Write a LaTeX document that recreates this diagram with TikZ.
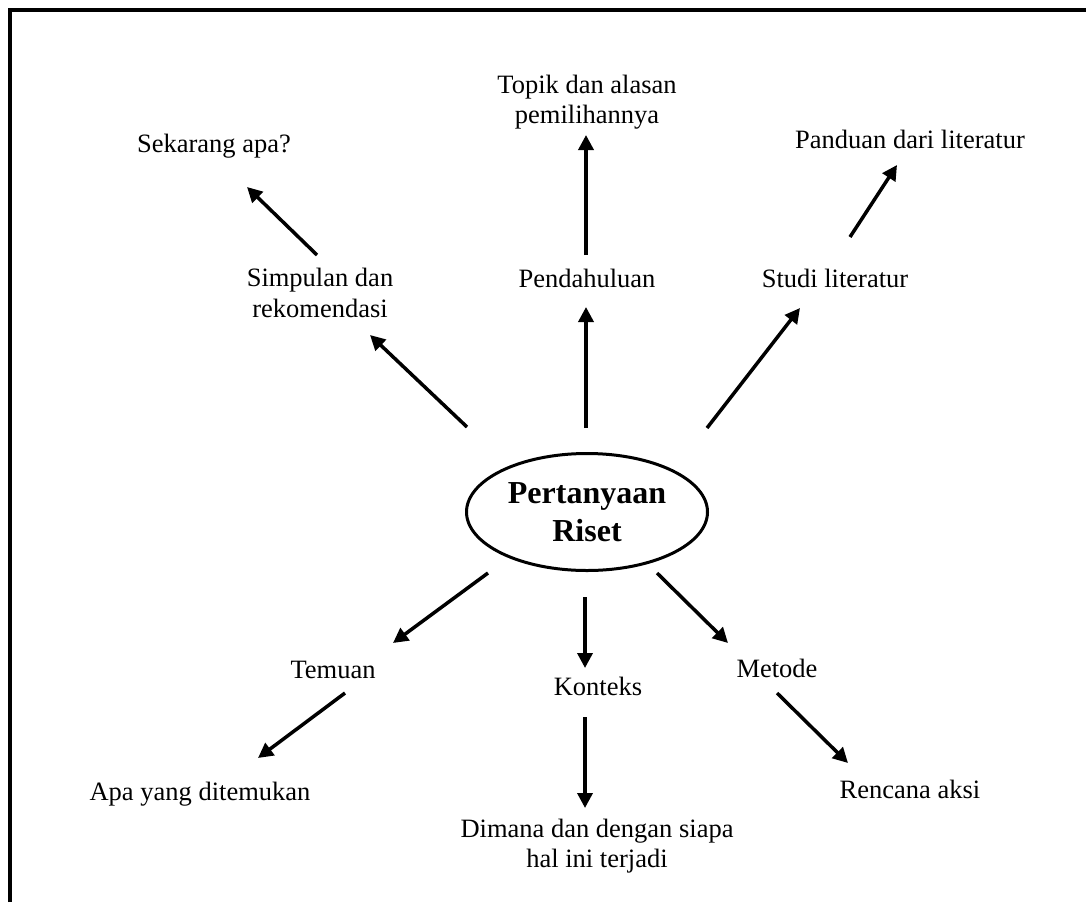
\documentclass[tikz,border=0pt]{standalone}
\usepackage{fontspec}
\setmainfont{Liberation Serif}
\usetikzlibrary{shapes.geometric, arrows.meta, calc}
\tikzstyle{point} = [inner sep=0pt, outer sep=0pt, align=center, font=\fontsize{26.5}{30.5}\selectfont]
\tikzstyle{question} = [ellipse, draw=black, line width=3pt, minimum width=241pt, minimum height=117pt, inner sep=0pt, align=center, font=\fontsize{32}{38}\selectfont\bfseries]
\tikzstyle{arrow} = [line width=3.5pt, -{Triangle[length=15pt,width=15pt]}]

\begin{document}
\begin{tikzpicture}[x=1pt, y=-1pt]
	\useasboundingbox (0,0) rectangle (1086,902);
	\draw [line width=4pt] (10,902) -- (10,10) -- (1086,10);

	\node (ell) [question] at (587,512) {Pertanyaan\\Riset};

	\node (sim) [point] at (320,293) {Simpulan dan\\rekomendasi};
	\node (pen) [point, anchor=base] at (587,287) {Pendahuluan};
	\node (stu) [point, anchor=base] at (835,287) {Studi literatur};
	\node (sek) [point, anchor=base] at (214,152) {Sekarang apa?};
	\node (top) [point] at (587,102) {Topik dan alasan\\pemilihannya};
	\node (pan) [point, anchor=base] at (910,148) {Panduan dari literatur};

	\node (tem) [point, anchor=base] at (333,678) {Temuan};
	\node (kon) [point, anchor=base] at (598,695) {Konteks};
	\node (met) [point, anchor=base] at (777,677) {Metode};
	\node (apa) [point, anchor=base] at (200,800) {Apa yang ditemukan};
	\node (dim) [point] at (597,846) {Dimana dan dengan siapa\\hal ini terjadi};
	\node (ren) [point, anchor=base] at (910,798) {Rencana aksi};

	% upper branches
	\draw [arrow] ($(ell)+(-120,-85)$) -- ($(sim)+(50,42)$);
	\draw [arrow] ($(sim)+(-3,-38)$) -- ($(sek.base)+(33,35)$);
	\draw [arrow] ($(ell)+(-1,-84)$) -- ($(pen.base)+(-1,20)$);
	\draw [arrow] ($(pen.base)+(-1,-32)$) -- ($(top)+(-1,33)$);
	\draw [arrow] ($(ell)+(120,-84)$) -- ($(stu.base)+(-35,21)$);
	\draw [arrow] ($(stu.base)+(15,-50)$) -- ($(pan.base)+(-13,17)$);

	% lower branches
	\draw [arrow] ($(ell)+(-99,61)$) -- ($(tem.base)+(60,-35)$);
	\draw [arrow] ($(tem.base)+(12,15)$) -- ($(apa.base)+(58,-42)$);
	\draw [arrow] ($(ell)+(-2,85)$) -- ($(kon.base)+(-13,-27)$);
	\draw [arrow] ($(kon.base)+(-13,22)$) -- ($(dim)+(-12,-38)$);
	\draw [arrow] ($(ell)+(70,61)$) -- ($(met.base)+(-49,-34)$);
	\draw [arrow] ($(met.base)+(0,16)$) -- ($(ren.base)+(-62,-35)$);
\end{tikzpicture}
\end{document}
